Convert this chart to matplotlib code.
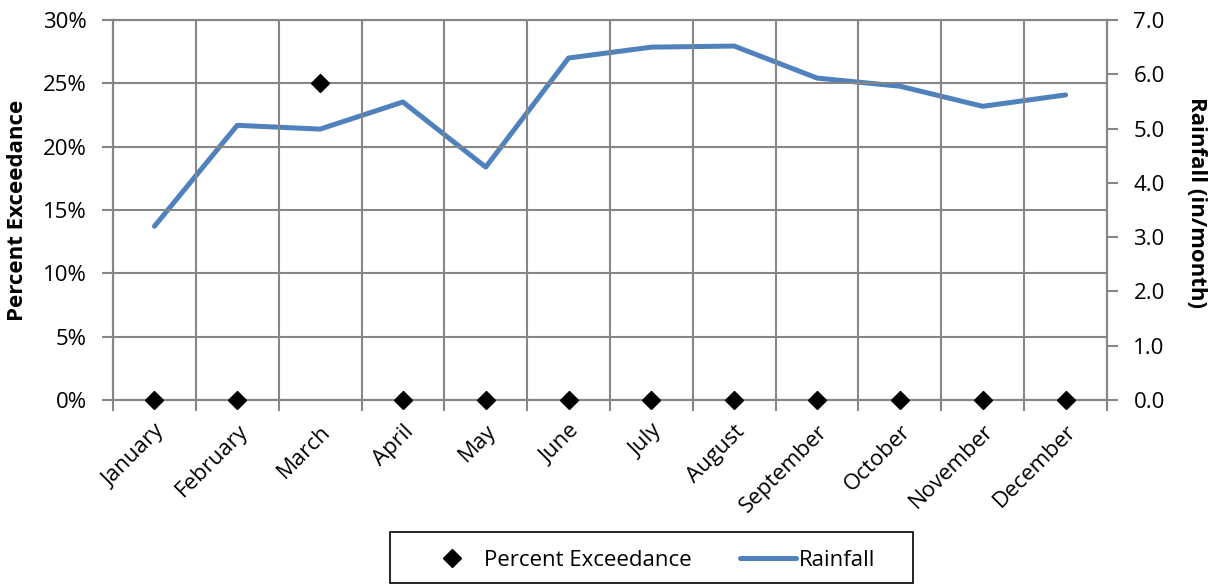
import matplotlib
matplotlib.use("Agg")
import matplotlib.pyplot as plt
from matplotlib.ticker import FuncFormatter, FixedLocator
from matplotlib.lines import Line2D
from matplotlib.patches import Rectangle

months = ["January", "February", "March", "April", "May", "June", "July",
          "August", "September", "October", "November", "December"]
rainfall = [3.20, 5.06, 4.99, 5.49, 4.29, 6.30, 6.50, 6.52, 5.93, 5.78, 5.41, 5.62]
exceedance = [0.0, 0.0, 25.0, 0.0, 0.0, 0.0, 0.0, 0.0, 0.0, 0.0, 0.0, 0.0]

plt.rcParams["font.family"] = ["Open Sans", "DejaVu Sans"]
grid_c = "#868686"
line_c = "#4F81BD"
fs = 16

W, H = 1219, 586
fig = plt.figure(figsize=(W / 100, H / 100), dpi=100)
ax = fig.add_axes([113 / W, 1 - 400 / H, (1107 - 113) / W, 380 / H])
ax2 = ax.twinx()

x = list(range(len(months)))

ax.set_xlim(-0.5, len(months) - 0.5)
ax.set_ylim(0, 30)
ax2.set_ylim(0, 7)

# Percent exceedance as diamonds on the left axis
ax.plot(x, exceedance, linestyle="none", marker="D", markersize=9.5,
        color="black", clip_on=False, zorder=5)
ax.set_zorder(ax2.get_zorder() + 1)
ax.patch.set_visible(False)

# Rainfall line on the right axis
ax2.plot(x, rainfall, color=line_c, linewidth=3.6, solid_capstyle="round",
         solid_joinstyle="round")

# Grid: horizontal lines from the left axis, vertical lines at category boundaries
ax.set_yticks(range(0, 31, 5))
ax.yaxis.set_major_formatter(FuncFormatter(lambda v, p: f"{int(v)}%"))
ax.set_xticks(x)
ax.set_xticklabels(months, rotation=45, ha="right", rotation_mode="anchor")
ax.xaxis.set_minor_locator(FixedLocator([i - 0.5 for i in range(len(months) + 1)]))
ax.tick_params(axis="x", which="major", length=0, pad=15, labelsize=fs)
ax.tick_params(axis="x", which="minor", length=8, width=1.5, color=grid_c, direction="out")
ax.tick_params(axis="y", length=8, width=1.5, color=grid_c, labelsize=fs, pad=11)
ax.grid(axis="y", which="major", color=grid_c, linewidth=1.5)
ax.grid(axis="x", which="minor", color=grid_c, linewidth=1.5)
ax.set_axisbelow(True)

ax2.set_yticks(range(0, 8))
ax2.yaxis.set_major_formatter(FuncFormatter(lambda v, p: f"{v:.1f}"))
ax2.tick_params(axis="y", length=8, width=1.5, color=grid_c, labelsize=fs, pad=11)

for a in (ax, ax2):
    for s in a.spines.values():
        s.set_color(grid_c)
        s.set_linewidth(1.5)

ax.set_ylabel("Percent Exceedance", fontsize=fs, fontweight="bold",
              va="center", ha="center")
ax.yaxis.set_label_coords((18 - 113) / 994, 0.5)
ax2.set_ylabel("Rainfall (in/month)", fontsize=fs, fontweight="bold",
               rotation=-90, va="center", ha="center")
ax2.yaxis.set_label_coords((1196 - 113) / 994, 0.52)

# Legend below the plot, with a box drawn around it
fig.patches.append(Rectangle((390 / W, 1 - 583 / H), (913 - 390) / W, 51 / H,
                             transform=fig.transFigure, fill=False,
                             edgecolor="black", linewidth=1.2))
handles = [
    Line2D([], [], linestyle="none", marker="D", markersize=9.5, color="black"),
    Line2D([], [], color=line_c, linewidth=3.6, solid_capstyle="round"),
]
fig.legend(handles, ["Percent Exceedance", "Rainfall"], loc="center",
           bbox_to_anchor=(650 / W, 1 - 560 / H), ncol=2, fontsize=fs,
           frameon=False, handlelength=2.5, columnspacing=2.2,
           handletextpad=0.15)

fig.savefig("out.png", dpi=100)
